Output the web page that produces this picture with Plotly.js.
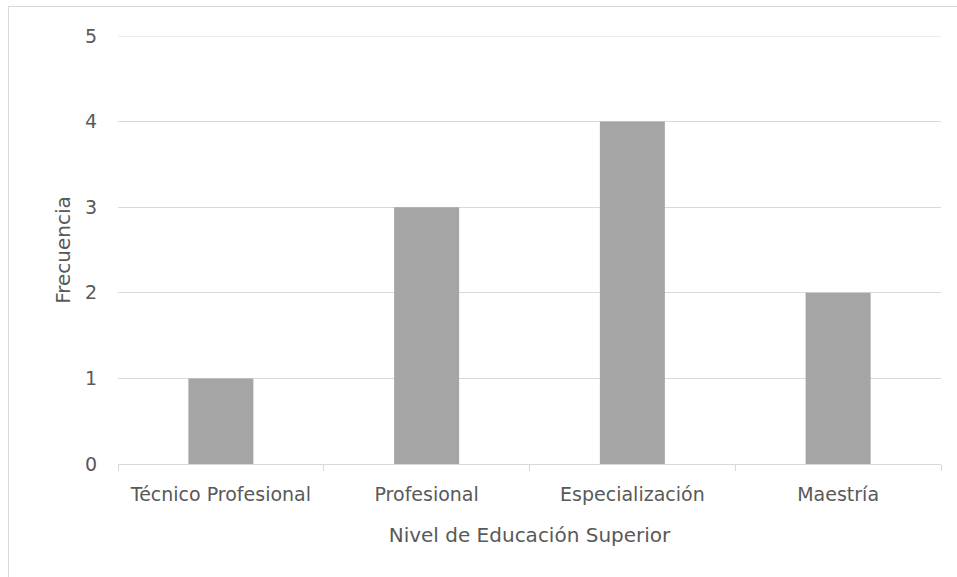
<!DOCTYPE html>
<html>
<head>
<meta charset="utf-8">
<script src="https://cdn.plot.ly/plotly-3.0.1.min.js"></script>
<style>html,body{margin:0;padding:0;background:#fff;}#chart{width:957px;height:577px;}</style>
</head>
<body>
<div id="chart"></div>
<script>
const categories = ["Técnico Profesional", "Profesional", "Especialización", "Maestría"];
const frecuencia = [1, 3, 4, 2];
const yTicks = [0, 1, 2, 3, 4, 5];

const fontFam = "'DejaVu Sans', sans-serif";
const trace = {
  type: "bar",
  x: categories,
  y: frecuencia,
  marker: {color: "#A5A5A5"},
  hoverinfo: "x+y"
};
const layout = {
  width: 957, height: 577,
  margin: {l: 118, r: 16, t: 36, b: 113},
  paper_bgcolor: "#fff", plot_bgcolor: "#fff",
  bargap: 0.684,
  showlegend: false,
  font: {family: fontFam, size: 19, color: "#595959"},
  xaxis: {
    type: "category",
    tickson: "boundaries",
    ticks: "outside", ticklen: 6, tickcolor: "#D9D9D9", tickwidth: 1,
    showline: true, linecolor: "#D9D9D9", linewidth: 1,
    showgrid: false,
    ticklabelstandoff: 13,
    tickfont: {family: fontFam, size: 19, color: "#595959"},
    title: {text: "Nivel de Educación Superior", font: {family: fontFam, size: 20, color: "#595959"}, standoff: 24}
  },
  yaxis: {
    range: [0, 5],
    tickvals: yTicks,
    ticktext: yTicks.map(String),
    showgrid: true, gridcolor: "#D9D9D9", gridwidth: 1,
    zeroline: false, showline: false, ticks: "",
    ticklabelstandoff: 20,
    tickfont: {family: fontFam, size: 19, color: "#595959"},
    title: {text: "Frecuencia", font: {family: fontFam, size: 20, color: "#595959"}, standoff: 8}
  },
  shapes: [
    {type: "line", xref: "paper", yref: "y", x0: 0, x1: 1, y0: 5, y1: 5, line: {color: "#D9D9D9", width: 1}},
    {type: "line", xref: "paper", yref: "paper", x0: -118/823 + 8.5/823, x1: -118/823 + 8.5/823, y0: -113/428, y1: 1 + 30/428, line: {color: "#D9D9D9", width: 1}},
    {type: "line", xref: "paper", yref: "paper", x0: -118/823 + 8.5/823, x1: 1 + 16/823, y0: 1 + 29.5/428, y1: 1 + 29.5/428, line: {color: "#D9D9D9", width: 1}}
  ]
};
Plotly.newPlot("chart", [trace], layout, {displayModeBar: false, staticPlot: true});
</script>
</body>
</html>
